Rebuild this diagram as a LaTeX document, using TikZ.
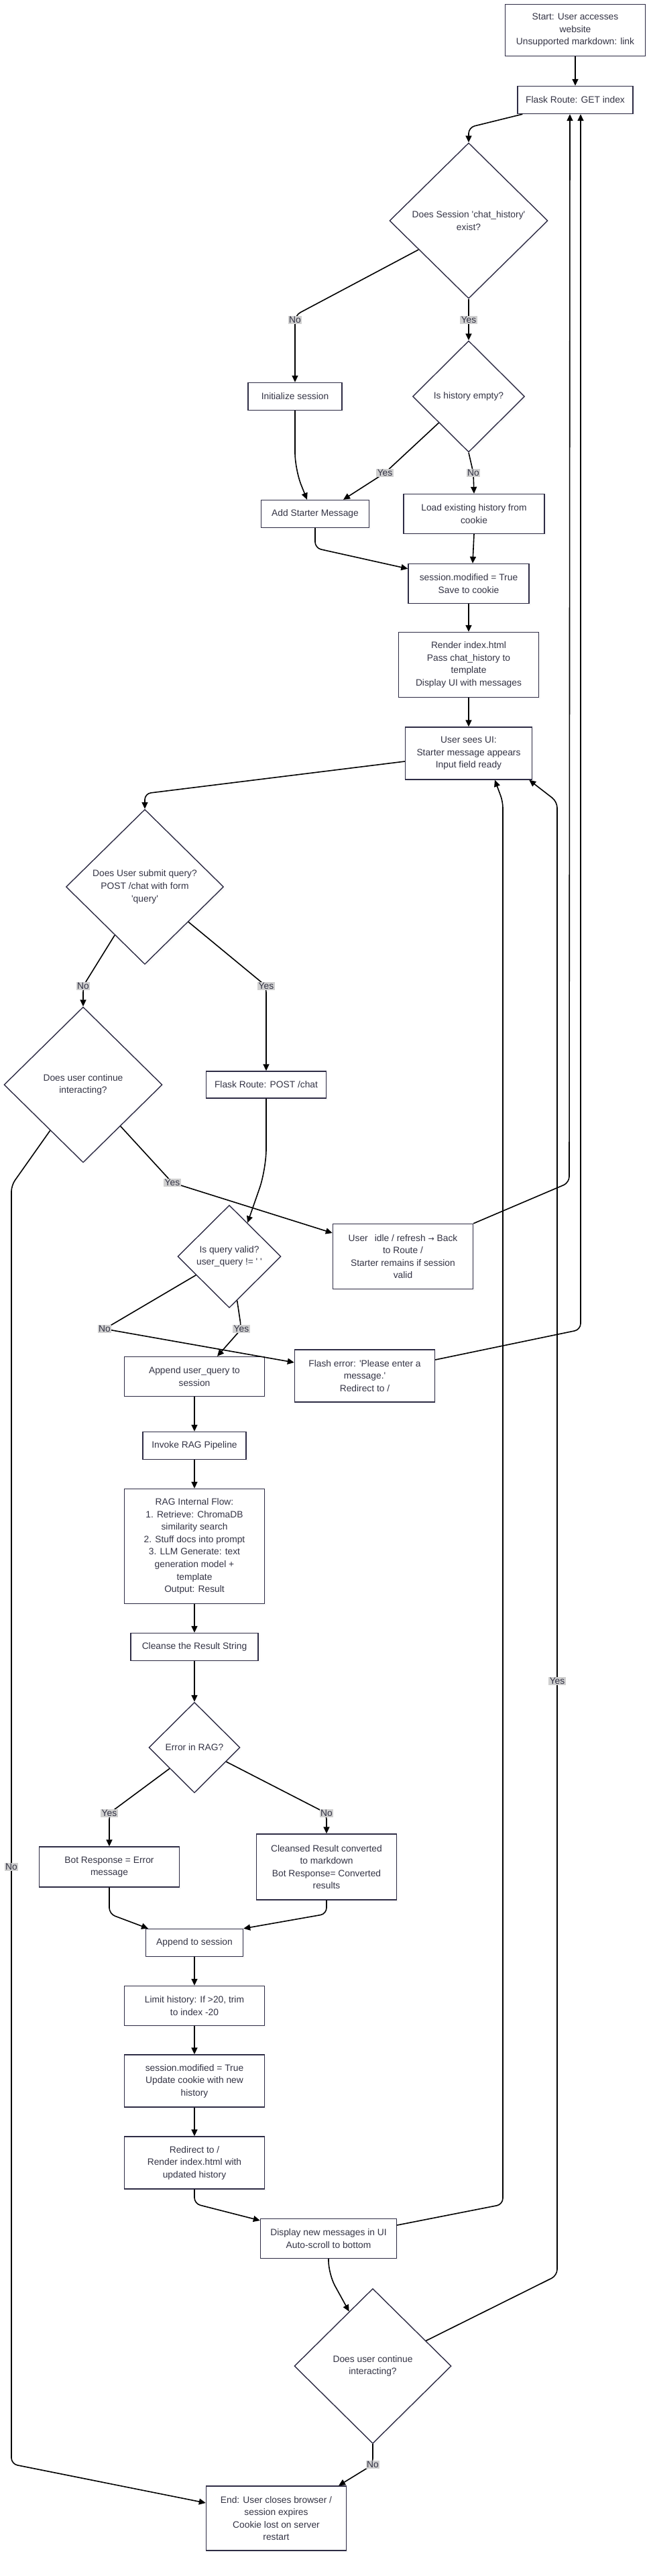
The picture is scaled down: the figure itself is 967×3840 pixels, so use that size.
\documentclass[tikz,border=0pt]{standalone}
\usepackage{fontspec}
\setmainfont{Liberation Sans}[Ligatures=TeXOff]
\newfontfamily\dv{DejaVu Sans}
\usetikzlibrary{shapes.geometric,arrows.meta,calc,shadows}
\definecolor{ncol}{HTML}{2E2C45}
\definecolor{tcol}{HTML}{333344}
\definecolor{lblcol}{HTML}{D0D0D0}
\newcommand{\sq}{'}
\newcommand{\nf}{\fontsize{13.8}{18.6}\selectfont}
\tikzset{
  box/.style={draw=ncol, line width=1.4pt, fill=white, align=center, inner sep=0pt, text=tcol, font=\nf,
    drop shadow={shadow xshift=2.5pt, shadow yshift=-2.5pt, opacity=0.05}},
  dia/.style={diamond, aspect=1, draw=ncol, line width=1.4pt, fill=white, align=center, inner sep=0pt, text=tcol, font=\nf,
    drop shadow={shadow xshift=2.5pt, shadow yshift=-2.5pt, opacity=0.05}},
  lbl/.style={fill=lblcol, inner sep=1.5pt, text=tcol, font=\nf},
  conn/.style={draw=black, line width=1.6pt, -{Triangle[length=10pt,width=9pt]}, rounded corners=9pt},
}
\begin{document}
\begin{tikzpicture}[x=1pt,y=-1pt]
\useasboundingbox (0,0) rectangle (967,3840);
% nodes
\node[box, minimum width=209pt, minimum height=77pt] (start) at (858,45) {Start: User accesses\\website\\Unsupported markdown: link};
\node[box, minimum width=172pt, minimum height=41pt] (get) at (858,149) {Flask Route: GET index};
\node[dia, minimum width=236pt, minimum height=232pt] (d1) at (699,329) {Does Session \sq chat\_history\sq\\exist?};
\node[box, minimum width=140pt, minimum height=41pt] (init) at (440,591) {Initialize session};
\node[dia, minimum width=167pt, minimum height=166pt] (d2) at (699,591) {Is history empty?};
\node[box, minimum width=161pt, minimum height=41pt] (starter) at (470,766) {Add Starter Message};
\node[box, minimum width=210pt, minimum height=59pt] (load) at (707,766) {Load existing history from\\cookie};
\node[box, minimum width=180pt, minimum height=59pt] (sess) at (699,870) {session.modified = True\\Save to cookie};
\node[box, minimum width=209pt, minimum height=97pt] (render) at (699,991) {Render index.html\\Pass chat\_history to\\template\\Display UI with messages};
\node[box, minimum width=189pt, minimum height=78pt] (ui) at (699,1123) {User sees UI:\\Starter message appears\\Input field ready};
\node[dia, minimum width=235pt, minimum height=231pt] (d3) at (216,1322) {Does User submit query?\\POST /chat with form\\\sq query\sq};
\node[dia, minimum width=236pt, minimum height=232pt] (d4) at (124,1617) {Does user continue\\interacting?};
\node[box, minimum width=179pt, minimum height=40pt] (post) at (397,1617) {Flask Route: POST /chat};
\node[dia, minimum width=154pt, minimum height=153pt] (d5) at (342,1873) {Is query valid?\\user\_query != \sq\ \sq};
\node[box, minimum width=209pt, minimum height=97pt] (idle) at (601,1873) {User\hspace{10pt}idle / refresh {\dv\fontsize{11}{18.6}\selectfont →} Back\\to Route /\\Starter remains if session\\valid};
\node[box, minimum width=209pt, minimum height=78pt] (flash) at (544,2051) {Flash error: \sq Please enter a\\message.\sq\\Redirect to /};
\node[box, minimum width=209pt, minimum height=59pt] (append) at (290,2052) {Append user\_query to\\session};
\node[box, minimum width=154pt, minimum height=41pt] (invoke) at (290,2155) {Invoke RAG Pipeline};
\node[box, minimum width=209pt, minimum height=171pt] (rag) at (290,2305) {RAG Internal Flow:\\1. Retrieve: ChromaDB\\similarity search\\2. Stuff docs into prompt\\3. LLM Generate: text\\generation model +\\template\\Output: Result};
\node[box, minimum width=190pt, minimum height=41pt] (cleanse) at (290,2455) {Cleanse the Result String};
\node[dia, minimum width=136pt, minimum height=135pt] (d6) at (290,2605) {Error in RAG?};
\node[box, minimum width=209pt, minimum height=60pt] (boterr) at (163,2783) {Bot Response = Error\\message};
\node[box, minimum width=209pt, minimum height=98pt] (cleansed) at (487,2783) {Cleansed Result converted\\to markdown\\Bot Response= Converted\\results};
\node[box, minimum width=145pt, minimum height=41pt] (append2) at (290,2896) {Append to session};
\node[box, minimum width=209pt, minimum height=59pt] (limit) at (290,2990) {Limit history: If >20, trim\\to index -20};
\node[box, minimum width=209pt, minimum height=78pt] (sess2) at (290,3102) {session.modified = True\\Update cookie with new\\history};
\node[box, minimum width=209pt, minimum height=78pt] (redirect) at (290,3224) {Redirect to /\\Render index.html with\\updated history};
\node[box, minimum width=203pt, minimum height=59pt] (display) at (490,3337) {Display new messages in UI\\Auto-scroll to bottom};
\node[dia, minimum width=234pt, minimum height=231pt] (d7) at (556,3527) {Does user continue\\interacting?};
\node[box, minimum width=209pt, minimum height=96pt] (end) at (412,3754) {End: User closes browser /\\session expires\\Cookie lost on server\\restart};
% connectors
\draw[conn] (start.south) -- (get.north);
\draw[conn] ([xshift=8pt]get.south west) -- (699,190) -- (d1.north);
\draw[conn] ($(d1.west)!0.37!(d1.south)$) -- (440,470) -- (init.north);
\draw[conn] (d1.south) -- (d2.north);
\draw[conn] ($(d2.west)!0.47!(d2.south)$) -- (574,705) -- ([xshift=42pt]starter.north);
\draw[conn, rounded corners=25pt] (init.south) -- (440,700) -- ([xshift=-12pt]starter.north);
\draw[conn] (d2.south) -- (706,705) -- (load.north);
\draw[conn] (starter.south) -- (470,817) -- ([yshift=-8pt]sess.north west);
\draw[conn] (load.south) -- ([xshift=6pt]sess.north);
\draw[conn] (sess.south) -- (render.north);
\draw[conn] (render.south) -- (ui.north);
\draw[conn] ([yshift=-12pt]ui.west) -- (216,1183) -- (d3.north);
\draw[conn] ($(d3.west)!0.62!(d3.south)$) -- (124,1470) -- (d4.north);
\draw[conn] ($(d3.east)!0.45!(d3.south)$) -- (397,1470) -- (post.north);
\draw[conn, rounded corners=30pt] (post.south) -- (397,1743) -- ($(d5.north)!0.35!(d5.east)$);
\draw[conn] ($(d4.east)!0.53!(d4.south)$) -- (257,1763) -- ([yshift=35pt]idle.west);
\draw[conn] (idle.north east) -- (849,1763) -- ([xshift=-8pt]get.south);
\draw[conn] ($(d5.west)!0.36!(d5.south)$) -- (156,1981) -- ([yshift=20pt]flash.west);
\draw[conn] ($(d5.east)!0.85!(d5.south)$) -- (360,1981) -- ([xshift=34pt]append.north);
\draw[conn] ([yshift=24pt]flash.east) -- (866,1982) -- ([xshift=8pt]get.south);
\draw[conn] (append.south) -- (invoke.north);
\draw[conn] (invoke.south) -- (rag.north);
\draw[conn] (rag.south) -- (cleanse.north);
\draw[conn] (cleanse.south) -- (d6.north);
\draw[conn] ($(d6.west)!0.46!(d6.south)$) -- (163,2703) -- (boterr.north);
\draw[conn] ($(d6.east)!0.31!(d6.south)$) -- (487,2703) -- (cleansed.north);
\draw[conn] (boterr.south) -- (163,2853) -- ([xshift=-69pt]append2.north);
\draw[conn] (cleansed.south) -- (487,2853) -- (append2.north east);
\draw[conn] (append2.south) -- (limit.north);
\draw[conn] (limit.south) -- (sess2.north);
\draw[conn] (sess2.south) -- (redirect.north);
\draw[conn] (redirect.south) -- (290,3285) -- ([yshift=27pt]display.west);
\draw[conn] ([yshift=20pt]display.east) -- (750,3286) -- (750,1195) -- ([xshift=39pt]ui.south);
\draw[conn, rounded corners=20pt] (display.south) -- (490,3390) -- ($(d7.north)!0.3!(d7.west)$);
\draw[conn] ($(d7.north)!0.675!(d7.east)$) -- (831,3392) -- (831,1195) -- ([xshift=-5pt]ui.south east);
\draw[conn] (d7.south) -- (556,3674) -- ([xshift=93pt]end.north);
\draw[conn] ($(d4.west)!0.585!(d4.south)$) -- (17,1767) -- (17,3673) -- ([yshift=23pt]end.west);
% labels
\node[lbl] (l1) at (440,477) {No};
\node[lbl] (l2) at (699,477) {Yes};
\node[lbl] (l3) at (574,705) {Yes};
\node[lbl] (l4) at (706,705) {No};
\node[lbl] (l5) at (124,1470) {No};
\node[lbl] (l6) at (397,1470) {Yes};
\node[lbl] (l7) at (257,1763) {Yes};
\node[lbl] (l8) at (156,1981) {No};
\node[lbl] (l9) at (360,1981) {Yes};
\node[lbl] (l10) at (163,2703) {Yes};
\node[lbl] (l11) at (487,2703) {No};
\node[lbl] (l12) at (831,2506) {Yes};
\node[lbl] (l13) at (17,2783) {No};
\node[lbl] (l14) at (556,3674) {No};
\end{tikzpicture}
\end{document}
